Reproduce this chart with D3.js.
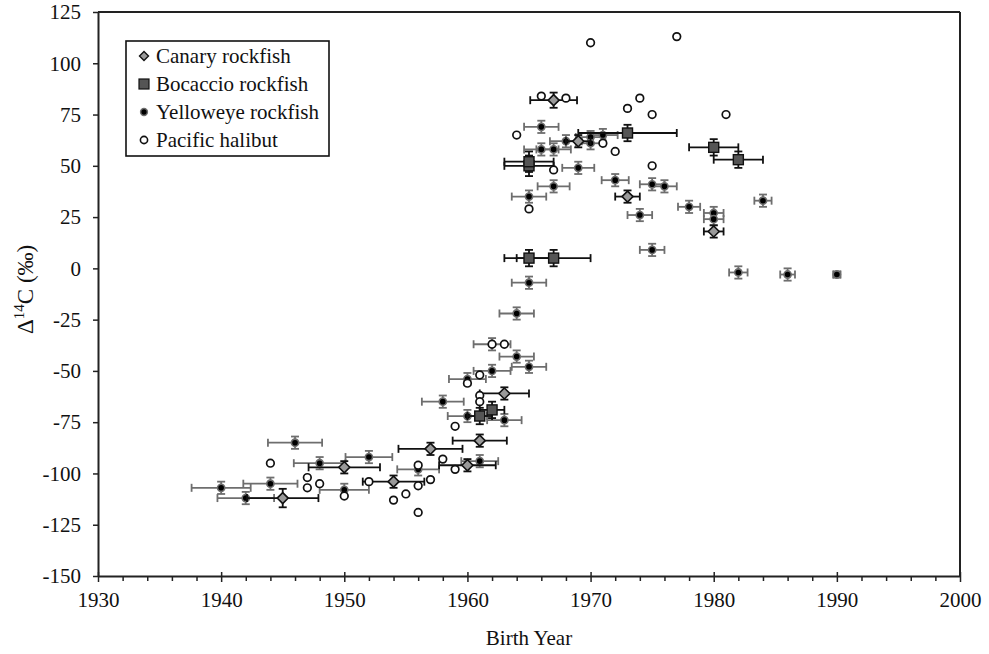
<!DOCTYPE html>
<html>
<head>
<meta charset="utf-8">
<script src="https://cdn.jsdelivr.net/npm/d3@7"></script>
<style>
  body { margin: 0; background: #fff; }
  svg { display: block; font-family: "Liberation Serif", "Times New Roman", serif; }
  svg text { font-family: "Liberation Serif", "Times New Roman", serif; }
</style>
</head>
<body>
<svg width="989" height="654"></svg>
<script>
// [birth year, delta14C, x error (yr), y error]
var canary = [
  [1945, -112, 2.9, 4.5], [1950, -97, 2.9, 3], [1954, -104, 2.5, 3], [1957, -88, 2.6, 3],
  [1960, -96, 2.3, 3], [1961, -84, 2.2, 3], [1963, -61, 2.0, 3], [1967, 82, 1.9, 3.7],
  [1969, 62, 1.0, 3], [1973, 35, 1.0, 3], [1980, 18, 0.8, 3]
];
var bocaccio = [
  [1961, -72, 1.0, 4], [1962, -69, 1.0, 4], [1965, 5, 2.0, 4], [1967, 5, 3.0, 4],
  [1965, 50, 2.0, 5], [1965, 52, 2.0, 5], [1973, 66, 4.0, 4], [1980, 59, 2.0, 4], [1982, 53, 2.0, 4]
];
var yelloweye = [
  [1940, -107, 2.4, 3], [1942, -112, 2.3, 3], [1944, -105, 2.2, 3], [1946, -85, 2.2, 3],
  [1948, -95, 2.1, 3], [1950, -108, 2.0, 3], [1952, -92, 1.9, 3], [1956, -98, 1.7, 3],
  [1958, -65, 1.7, 3], [1960, -54, 1.5, 3], [1960, -72, 1.6, 3], [1961, -94, 1.5, 3],
  [1962, -50, 1.5, 3], [1962, -37, 1.5, 3], [1963, -74, 1.4, 3], [1964, -43, 1.4, 3],
  [1965, -48, 1.4, 3], [1964, -22, 1.4, 3], [1965, -7, 1.4, 3], [1965, 35, 1.4, 3],
  [1967, 40, 1.3, 3], [1966, 58, 1.4, 3], [1967, 58, 1.4, 3], [1966, 69, 1.4, 3],
  [1968, 62, 1.3, 3], [1969, 49, 1.3, 3], [1970, 64, 1.2, 3], [1970, 61, 1.2, 3],
  [1971, 65, 1.2, 3], [1972, 43, 1.1, 3], [1974, 26, 1.0, 3], [1975, 41, 1.0, 3],
  [1976, 40, 1.0, 3], [1975, 9, 1.0, 3], [1978, 30, 0.9, 3], [1980, 27, 0.8, 3],
  [1980, 24, 0.8, 3], [1982, -2, 0.75, 3], [1984, 33, 0.7, 3], [1986, -3, 0.6, 3],
  [1990, -3, 0.3, 1.5]
];
var halibut = [
  [1944, -95], [1947, -102], [1947, -107], [1948, -105], [1950, -111], [1952, -104],
  [1954, -113], [1955, -110], [1956, -96], [1956, -106], [1956, -119], [1957, -103],
  [1958, -93], [1959, -98], [1959, -77], [1960, -56], [1961, -52], [1961, -62],
  [1961, -65], [1962, -37], [1963, -37], [1964, 65], [1965, 29], [1966, 84],
  [1967, 48], [1968, 83], [1970, 110], [1971, 61], [1972, 57], [1973, 78],
  [1974, 83], [1975, 75], [1975, 50], [1977, 113], [1981, 75]
];
var xTicks = [1930, 1940, 1950, 1960, 1970, 1980, 1990, 2000];
var yTicks = [-150, -125, -100, -75, -50, -25, 0, 25, 50, 75, 100, 125];
var legendNames = ["Canary rockfish", "Bocaccio rockfish", "Yelloweye rockfish", "Pacific halibut"];

var serif = "'Liberation Serif', 'Times New Roman', serif";

var svg = d3.select("svg"),
    margin = {top: 12, right: 29, bottom: 78, left: 98},
    w = +svg.attr("width") - margin.left - margin.right,
    h = +svg.attr("height") - margin.top - margin.bottom;

var xScale = d3.scaleLinear().domain([1930, 2000]).range([0, w]),
    yScale = d3.scaleLinear().domain([-150, 125]).range([h, 0]);

var g = svg.append("g")
    .attr("transform", "translate(" + margin.left + "," + margin.top + ")");

// frame (top and right)
g.append("line").attr("x1", 0).attr("x2", w).attr("y1", 0).attr("y2", 0)
  .attr("stroke", "#222").attr("stroke-width", 2);
g.append("line").attr("x1", w).attr("x2", w).attr("y1", 0).attr("y2", h)
  .attr("stroke", "#222").attr("stroke-width", 2);

// x axis, minor ticks every 2 years
var xAxis = g.append("g")
    .attr("class", "axis x-axis")
    .attr("transform", "translate(0," + h + ")")
    .call(d3.axisBottom(xScale)
      .tickValues(d3.range(1930, 2001, 2))
      .tickSize(5)
      .tickSizeOuter(0)
      .tickFormat(function(d) { return xTicks.indexOf(d) >= 0 ? String(d) : ""; }));
xAxis.selectAll(".tick line")
    .attr("y1", function(d) { return xTicks.indexOf(d) >= 0 ? -4 : 0; })
    .attr("y2", function(d) { return xTicks.indexOf(d) >= 0 ? 6 : 5; });
xAxis.selectAll(".tick text").attr("y", 16);

var yAxis = g.append("g")
    .attr("class", "axis y-axis")
    .call(d3.axisLeft(yScale).tickValues(yTicks).tickSize(5).tickSizeOuter(0).tickPadding(12)
      .tickFormat(function(d) { return String(d); }));

svg.selectAll(".axis").attr("font-family", null);
svg.selectAll(".axis path").attr("stroke", "#222").attr("stroke-width", 2);
svg.selectAll(".axis line").attr("stroke", "#222").attr("stroke-width", 1.5);
svg.selectAll(".axis text")
    .style("font-family", serif)
    .style("font-size", "21px")
    .attr("fill", "#111");

// axis titles
svg.append("text")
    .attr("x", margin.left + w / 2)
    .attr("y", 645)
    .attr("text-anchor", "middle")
    .style("font-family", serif)
    .style("font-size", "21px")
    .attr("fill", "#111")
    .text("Birth Year");

var yt = svg.append("text")
    .attr("transform", "translate(33,334) rotate(-90)")
    .attr("text-anchor", "start")
    .style("font-family", serif)
    .style("font-size", "23px")
    .attr("fill", "#111");
yt.append("tspan").text("\u0394");
yt.append("tspan").attr("dy", -9).style("font-size", "15px").text("14");
yt.append("tspan").attr("dy", 9).text("C (\u2030)");

var cap = 4;

function errorBars(data, color) {
  var eb = g.append("g").attr("stroke", color).attr("stroke-width", 1.8).attr("fill", "none");
  data.forEach(function(d) {
    var cx = xScale(d[0]), cy = yScale(d[1]);
    var x0 = xScale(d[0] - d[2]), x1 = xScale(d[0] + d[2]);
    var y0 = yScale(d[1] - d[3]), y1 = yScale(d[1] + d[3]);
    eb.append("line").attr("x1", x0).attr("x2", x1).attr("y1", cy).attr("y2", cy);
    eb.append("line").attr("x1", x0).attr("x2", x0).attr("y1", cy - cap).attr("y2", cy + cap);
    eb.append("line").attr("x1", x1).attr("x2", x1).attr("y1", cy - cap).attr("y2", cy + cap);
    eb.append("line").attr("x1", cx).attr("x2", cx).attr("y1", y0).attr("y2", y1);
    eb.append("line").attr("x1", cx - cap).attr("x2", cx + cap).attr("y1", y0).attr("y2", y0);
    eb.append("line").attr("x1", cx - cap).attr("x2", cx + cap).attr("y1", y1).attr("y2", y1);
  });
}

var diamond = "M0,-5.5L5.5,0L0,5.5L-5.5,0Z";

// yelloweye
errorBars(yelloweye, "#6e6e6e");
g.selectAll(".yelloweye")
  .data(yelloweye)
  .enter().append("circle")
    .attr("class", "yelloweye")
    .attr("cx", function(d) { return xScale(d[0]); })
    .attr("cy", function(d) { return yScale(d[1]); })
    .attr("r", 3.6)
    .attr("fill", "#000")
    .attr("stroke", "#6e6e6e")
    .attr("stroke-width", 1.6);

// canary
errorBars(canary, "#111");
g.selectAll(".canary")
  .data(canary)
  .enter().append("path")
    .attr("class", "canary")
    .attr("d", diamond)
    .attr("transform", function(d) { return "translate(" + xScale(d[0]) + "," + yScale(d[1]) + ")"; })
    .attr("fill", "#9a9a9a")
    .attr("stroke", "#111")
    .attr("stroke-width", 1.6);

// bocaccio
errorBars(bocaccio, "#111");
g.selectAll(".bocaccio")
  .data(bocaccio)
  .enter().append("rect")
    .attr("class", "bocaccio")
    .attr("x", function(d) { return xScale(d[0]) - 5; })
    .attr("y", function(d) { return yScale(d[1]) - 5; })
    .attr("width", 10)
    .attr("height", 10)
    .attr("fill", "#555")
    .attr("stroke", "#111")
    .attr("stroke-width", 1.4);

// halibut
g.selectAll(".halibut")
  .data(halibut)
  .enter().append("circle")
    .attr("class", "halibut")
    .attr("cx", function(d) { return xScale(d[0]); })
    .attr("cy", function(d) { return yScale(d[1]); })
    .attr("r", 3.8)
    .attr("fill", "#fff")
    .attr("stroke", "#111")
    .attr("stroke-width", 1.7);

// legend
var lg = svg.append("g").attr("transform", "translate(126,41)");
lg.append("rect").attr("width", 203).attr("height", 115)
  .attr("fill", "#fff").attr("stroke", "#111").attr("stroke-width", 1.6);
var rows = lg.selectAll(".row").data(legendNames).enter().append("g")
  .attr("transform", function(d, i) { return "translate(18," + (15 + i * 28) + ")"; });
rows.append("text")
  .attr("x", 12).attr("y", 7)
  .style("font-family", serif)
  .style("font-size", "21px").attr("fill", "#111")
  .text(function(d) { return d; });
rows.filter(function(d, i) { return i === 0; }).append("path")
  .attr("d", "M0,-4.5L4.5,0L0,4.5L-4.5,0Z").attr("fill", "#9a9a9a").attr("stroke", "#111").attr("stroke-width", 1.4);
rows.filter(function(d, i) { return i === 1; }).append("rect")
  .attr("x", -5).attr("y", -5).attr("width", 10).attr("height", 10)
  .attr("fill", "#555").attr("stroke", "#111").attr("stroke-width", 1.2);
rows.filter(function(d, i) { return i === 2; }).append("circle")
  .attr("r", 3.4).attr("fill", "#000").attr("stroke", "#6e6e6e").attr("stroke-width", 1.5);
rows.filter(function(d, i) { return i === 3; }).append("circle")
  .attr("r", 3.6).attr("fill", "#fff").attr("stroke", "#111").attr("stroke-width", 1.6);
</script>
</body>
</html>
